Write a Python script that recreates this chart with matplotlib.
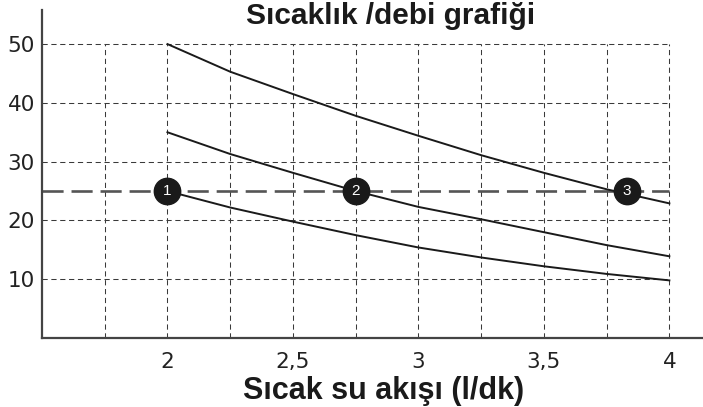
import numpy as np
import matplotlib
matplotlib.use("Agg")
import matplotlib.pyplot as plt

plt.rcParams['font.family'] = ['Liberation Sans', 'DejaVu Sans']

# debi (l/dk) and temperature readings for the three curves
flow = [2.0, 2.25, 2.5, 2.75, 3.0, 3.25, 3.5, 3.75, 4.0]
temp_top = [50.0, 45.3, 41.5, 37.8, 34.4, 31.1, 28.1, 25.3, 22.9]
temp_mid = [35.0, 31.3, 28.1, 25.0, 22.3, 20.2, 18.0, 15.8, 13.9]
temp_low = [25.0, 22.2, 19.8, 17.5, 15.4, 13.7, 12.2, 10.9, 9.8]

ref_temp = 25
marker_x = [2.0, 2.75, 3.83]
marker_labels = ["1", "2", "3"]

x_ticks = [2, 2.5, 3, 3.5, 4]
x_tick_labels = ["2", "2,5", "3", "3,5", "4"]
y_ticks = [10, 20, 30, 40, 50]
x_grid = [1.75, 2, 2.25, 2.5, 2.75, 3, 3.25, 3.5, 3.75, 4]

fig = plt.figure(figsize=(7.03, 4.07), dpi=100)
ax = fig.add_axes([42/703, 69/407, 661/703, 328/407])
ax.set_xlim(1.5, 4.134)
ax.set_ylim(0, 55.8)

grid_col = '#3a3a3a'
ax.vlines(x_grid, 0, 50, colors=grid_col, linewidth=0.75, linestyles=(0, (5, 3.5)), zorder=1)
ax.hlines(y_ticks, 1.5, 4, colors=grid_col, linewidth=0.75, linestyles=(0, (5, 3.5)), zorder=1)

ax.hlines(ref_temp, 1.5, 4, colors='#555555', linewidth=1.9, linestyles=(0, (8, 3)), zorder=2)

for t in [temp_top, temp_mid, temp_low]:
    ax.plot(flow, t, color='#1a1a1a', linewidth=1.4, zorder=3)

for mx, lab in zip(marker_x, marker_labels):
    ax.plot(mx, ref_temp, 'o', markersize=19, color='#1a1a1a', zorder=4)
    ax.text(mx, ref_temp, lab, color='white', fontsize=11, ha='center', va='center', zorder=5)

for s in ['top', 'right']:
    ax.spines[s].set_visible(False)
for s in ['left', 'bottom']:
    ax.spines[s].set_color('#444444')
    ax.spines[s].set_linewidth(1.6)

ax.set_xticks(x_ticks)
ax.set_xticklabels(x_tick_labels, family='DejaVu Sans', fontsize=15.5, color='#222222')
ax.set_yticks(y_ticks)
ax.set_yticklabels([str(v) for v in y_ticks], family='DejaVu Sans', fontsize=15.5, color='#222222')
ax.tick_params(axis='x', length=0, pad=10)
ax.tick_params(axis='y', length=0, pad=5)

fig.text(383.5/703, 1 - 399/407, "Sıcak su akışı (l/dk)", fontsize=22, fontweight='bold',
         color='#1a1a1a', ha='center', va='baseline')
fig.text(391/703, 1 - 24.5/407, "Sıcaklık /debi grafiği", fontsize=21.5, fontweight='bold',
         color='#1a1a1a', ha='center', va='baseline')

fig.savefig("out.png", dpi=100)
